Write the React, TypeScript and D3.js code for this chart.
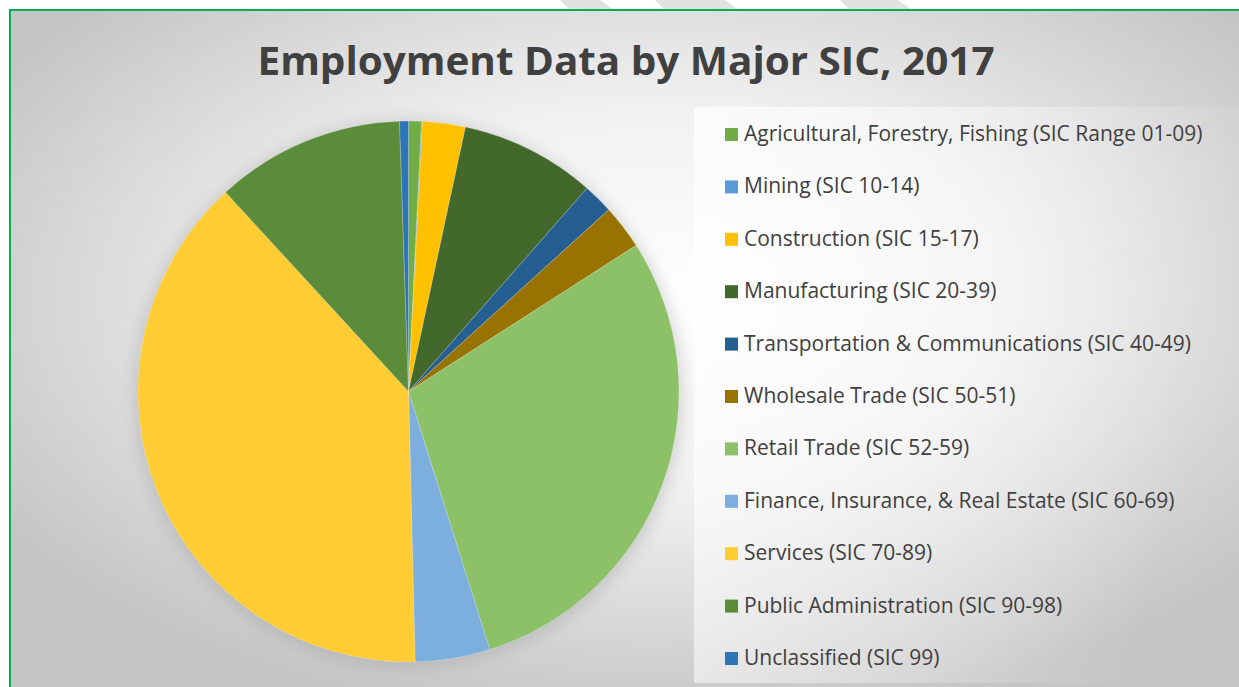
import * as d3 from 'd3';
import React from 'react';

const categories = [
  'Agricultural, Forestry, Fishing (SIC Range 01-09)',
  'Mining (SIC 10-14)',
  'Construction (SIC 15-17)',
  'Manufacturing (SIC 20-39)',
  'Transportation & Communications (SIC 40-49)',
  'Wholesale Trade (SIC 50-51)',
  'Retail Trade (SIC 52-59)',
  'Finance, Insurance, & Real Estate (SIC 60-69)',
  'Services (SIC 70-89)',
  'Public Administration (SIC 90-98)',
  'Unclassified (SIC 99)',
];

// share of employment, percent
const shares = [0.77, 0.05, 2.56, 8.1, 1.8, 2.65, 29.25, 4.47, 38.6, 11.3, 0.53];

const colors = [
  '#70ad47', '#5b9bd5', '#ffc000', '#43682b', '#255e91', '#997300',
  '#8cc168', '#7cafdd', '#ffcd33', '#5b8c3a', '#2e75b6',
];

const title = 'Employment Data by Major SIC, 2017';

const W = 1239;
const H = 687;

export default function App() {
  const cx = 408.5;
  const cy = 391.5;
  const r = 270.5;

  const data = categories.map((name, i) => ({ name, value: shares[i], color: colors[i] }));

  const pie = d3.pie<any>().sort(null).value((d) => d.value).startAngle(0).endAngle(2 * Math.PI);
  const arc = d3.arc<any>().innerRadius(0).outerRadius(r);
  const arcs = pie(data);

  // legend rows
  const legendY = d3.scaleLinear().domain([0, categories.length - 1]).range([141, 665]);

  return (
    <svg width={W} height={H} style={{ position: 'absolute', left: 0, top: 0 }}
      fontFamily="'Open Sans', sans-serif">
      <defs>
        <radialGradient id="bg" cx="0.52" cy="0.42" r="0.62">
          <stop offset="0" stopColor="#ffffff" />
          <stop offset="0.45" stopColor="#f1f1f1" />
          <stop offset="1" stopColor="#c5c5c5" />
        </radialGradient>
        <linearGradient id="leg" x1="0" y1="0" x2="1" y2="0.3">
          <stop offset="0" stopColor="#ffffff" stopOpacity="0.7" />
          <stop offset="0.6" stopColor="#ffffff" stopOpacity="0.3" />
          <stop offset="1" stopColor="#ffffff" stopOpacity="0" />
        </linearGradient>
        <filter id="shadow" x="-20%" y="-20%" width="140%" height="140%">
          <feGaussianBlur stdDeviation="9" />
        </filter>
      </defs>

      <rect x={0} y={0} width={W} height={H} fill="#ffffff" />
      {/* faint stripes above the frame */}
      {[[560, 40], [655, 70], [840, 58]].map(([x, w], i) => (
        <polygon key={i} points={`${x},0 ${x + w},0 ${x + w + 14},10 ${x + 10},10`} fill="#e2e2e2" />
      ))}

      <rect x={10} y={10} width={W} height={H} fill="url(#bg)" />

      {/* legend panel */}
      <rect x={694} y={107} width={545} height={576} fill="url(#leg)" />

      {/* pie shadow */}
      <circle cx={cx} cy={cy + 3} r={r + 2} fill="#9a9a9a" opacity={0.45} filter="url(#shadow)" />

      <g transform={`translate(${cx},${cy})`}>
        {arcs.map((a, i) => (
          <path key={i} d={arc(a) || ''} fill={a.data.color} stroke="#ffffff" strokeOpacity={0.35} strokeWidth={0.6} />
        ))}
      </g>

      <text x={626} y={75} textAnchor="middle" fontSize={40} fontWeight={700} fill="#404040"
        textLength={737} lengthAdjust="spacingAndGlyphs">
        {title}
      </text>

      {data.map((d, i) => (
        <g key={d.name} transform={`translate(725,${legendY(i)})`}>
          <rect x={0} y={-13} width={13} height={13} fill={d.color} />
          <text x={19} y={0} fontSize={21} fill="#404040">{d.name}</text>
        </g>
      ))}

      <rect x={10} y={10} width={W} height={H} fill="none" stroke="#00b050" strokeWidth={2} />
    </svg>
  );
}
